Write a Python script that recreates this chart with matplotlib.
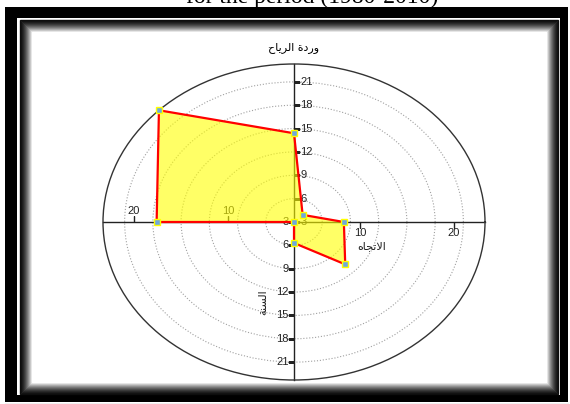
import numpy as np
import matplotlib
matplotlib.use("Agg")
import matplotlib.pyplot as plt
from matplotlib.patches import Rectangle

# === DATA ===
# wind directions (degrees, 0 = east, counter-clockwise) and values
directions = ["N", "NE", "E", "SE", "S", "SW", "W", "NW"]
angles_deg = [90, 45, 0, 315, 270, 225, 180, 135]
values = [14.4, 4.3, 8.3, 10.7, 5.7, 3.0, 17.6, 23.3]

r_min, r_max = 3, 23.3
grid_rings = [6, 9, 12, 15, 18, 21]
vert_ticks = [3, 6, 9, 12, 15, 18, 21]
horiz_ticks = [10, 20]

# shaped arabic text (presentation forms, visual order)
title_ar = "\uFEA1\uFE8E\uFEF3\uFEAE\uFEDF\uFE8D \uFE93\uFEA9\uFEAD\uFEED"   # وردة الرياح
xlabel_ar = "\uFEE9\uFE8E\uFEA0\uFE97\uFEFB\uFE8D"                      # الاتجاه
ylabel_ar = "\uFE94\uFEE8\uFEB4\uFEDF\uFE8D"                            # السنة
caption = "for the period (1980-2010)"

W, H = 570, 404


def fx(px):
    return px / W


def fy(py):
    return 1 - py / H


# === PAGE FRAME ===
def draw_frame(fig):
    bg = fig.add_axes([0, 0, 1, 1], zorder=0)
    bg.set_xlim(0, W)
    bg.set_ylim(H, 0)
    bg.axis("off")

    # outer thick black border
    for x, y, w, h in [(5, 7, 563, 11), (5, 7, 12, 395), (560, 7, 8, 395), (5, 395, 563, 7)]:
        bg.add_patch(Rectangle((x, y), w, h, color="black", lw=0))
    bg.plot([5, 568], [403.5, 403.5], color="black", lw=0.8)

    # inner panel with soft inset shadow
    x0, y0, x1, y1 = 20, 20, 558, 394
    n = 13
    for i in range(n):
        g = min(1.0, 0.05 + (i / (n - 1)) ** 1.6 * 0.95)
        bg.add_patch(Rectangle((x0 + i, y0 + i), (x1 - x0) - 2 * i, (y1 - y0) - 2 * i,
                               fill=False, edgecolor=str(g), lw=1.0))
    bg.add_patch(Rectangle((x0 + n, y0 + n), (x1 - x0) - 2 * n, (y1 - y0) - 2 * n,
                           color="white", lw=0))

    # caption cut off at the top of the picture
    fig.text(fx(438), fy(3), caption, ha="right", va="baseline",
             fontsize=17, family="Liberation Serif", color="black")


# === WIND ROSE ===
def plot_wind_rose():
    fig = plt.figure(figsize=(W / 100, H / 100), dpi=100)
    fig.patch.set_facecolor("white")
    draw_frame(fig)

    ax = fig.add_axes([fx(103), 1 - 380 / H, 382 / W, 316 / H],
                      projection="polar", zorder=1)
    ax.set_aspect("auto")

    ax.set_xticks([])
    ax.set_rticks(grid_rings)
    ax.set_yticklabels([])
    ax.yaxis.grid(True, color="#a0a0a0", linestyle=":", linewidth=0.8)
    ax.spines["polar"].set_color("#333333")
    ax.spines["polar"].set_linewidth(1.0)

    # cross axes through the centre
    for th in [0, np.pi / 2, np.pi, 3 * np.pi / 2]:
        ax.plot([th, th], [r_min, r_max], color="#222222", lw=1.0, zorder=2, clip_on=False)

    tick_kw = dict(linestyle="none", color="#222222", markersize=4, mew=1.0, zorder=2)
    ax.plot([np.pi / 2] * len(vert_ticks), vert_ticks, marker=1, **tick_kw)
    ax.plot([3 * np.pi / 2] * len(vert_ticks), vert_ticks, marker=0, **tick_kw)
    ax.plot([np.pi] * len(horiz_ticks), horiz_ticks, marker=2, **tick_kw)
    ax.plot([0] * len(horiz_ticks), horiz_ticks, marker=3, **tick_kw)

    lab_kw = dict(textcoords="offset points", fontsize=8, family="Liberation Sans",
                  color="#222222", zorder=2)
    for v in vert_ticks:
        ax.annotate(str(v), (np.pi / 2, v), xytext=(4.5, 0), ha="left", va="center", **lab_kw)
        ax.annotate(str(v), (3 * np.pi / 2, v), xytext=(-4, 0), ha="right", va="center", **lab_kw)
    for v in horiz_ticks:
        ax.annotate(str(v), (np.pi, v), xytext=(0, 4), ha="center", va="bottom", **lab_kw)
        ax.annotate(str(v), (0, v), xytext=(0, -4), ha="center", va="top", **lab_kw)

    # data polygon
    theta = np.deg2rad(angles_deg + angles_deg[:1])
    rr = values + values[:1]
    ax.fill(theta, rr, color="#ffff00", alpha=0.6, lw=0, zorder=3)
    ax.plot(theta, rr, color="#ff0000", lw=1.6, zorder=4, clip_on=False)
    ax.plot(theta[:-1], rr[:-1], linestyle="none", marker="s", markersize=4,
            markerfacecolor="#6fa8dc", markeredgecolor="#ffff00", mew=1.0,
            zorder=5, clip_on=False)

    # fix the radial range after plotting (centre = r_min)
    ax.set_autoscale_on(False)
    ax.set_rlim(r_min, r_max)

    # titles
    fig.text(fx(294), fy(48), title_ar, ha="center", va="center",
             fontsize=8, family="DejaVu Sans", color="black")
    fig.text(fx(372), fy(246), xlabel_ar, ha="center", va="center",
             fontsize=8, family="DejaVu Sans", color="#222222")
    fig.text(fx(263), fy(302), ylabel_ar, ha="center", va="center", rotation=90,
             fontsize=8, family="DejaVu Sans", color="#222222")

    fig.savefig("out.png", dpi=100)


if __name__ == "__main__":
    plot_wind_rose()
